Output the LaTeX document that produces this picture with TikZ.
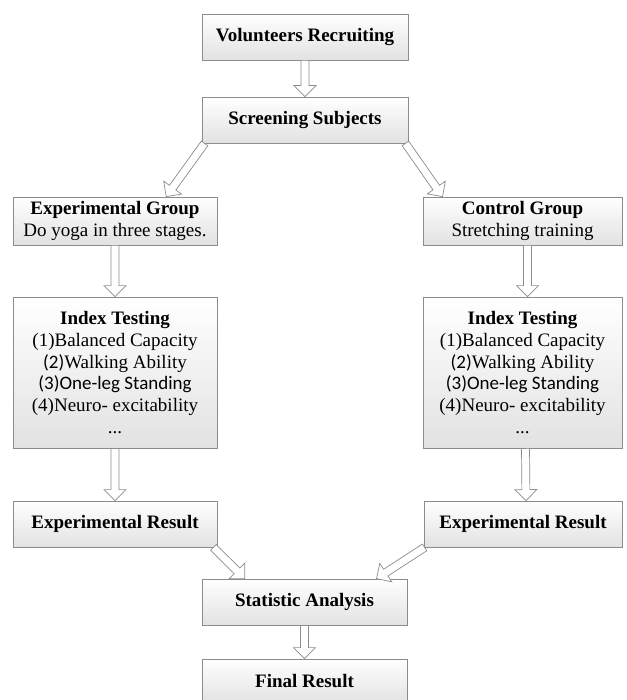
\documentclass[tikz,border=0pt]{standalone}
\usepackage{fontspec}
\setmainfont{Liberation Serif}
\newfontfamily\carlitofont{Carlito}
\usetikzlibrary{calc,shadows}
\definecolor{boxline}{HTML}{8C8C8C}
\definecolor{boxbot}{HTML}{E2E2E2}
\tikzset{
  box/.style={draw=boxline, line width=0.8pt, top color=white, bottom color=boxbot,
    inner sep=0pt, align=center, font=\fontsize{19}{21.7}\selectfont,
    drop shadow={shadow xshift=1.3pt, shadow yshift=-1.3pt, opacity=0.25}},
  barrow/.style={draw=boxline, fill=white, line width=0.7pt, line join=miter},
}
\newcommand{\blockarrow}[2]{%
  \coordinate (baS) at #1;
  \coordinate (baE) at #2;
  \coordinate (baH) at ($(baE)!11pt!(baS)$);
  \draw[barrow] ($(baS)!4pt!90:(baE)$) -- ($(baH)!4pt!90:(baE)$) -- ($(baH)!11pt!90:(baE)$)
    -- (baE) -- ($(baH)!11pt!-90:(baE)$) -- ($(baH)!4pt!-90:(baE)$) -- ($(baS)!4pt!-90:(baE)$) -- cycle;
}
\begin{document}
\begin{tikzpicture}[x=1pt,y=-1pt]
\useasboundingbox (0,0) rectangle (626,700);
\fill[white] (0,0) rectangle (626,700);

\node[box, minimum width=206pt, minimum height=46pt] (vol) at (305,37) {\textbf{Volunteers Recruiting}};
\node[box, minimum width=206pt, minimum height=46pt] (scr) at (305,120) {\textbf{Screening Subjects}};
\node[box, minimum width=204pt, minimum height=48pt] (expg) at (115,221) {\textbf{Experimental Group}\\Do yoga in three stages.};
\node[box, minimum width=199pt, minimum height=48pt] (ctrl) at (522.5,221) {\textbf{Control Group}\\Stretching training};
\node[box, minimum width=204pt, minimum height=151pt] (idxL) at (115,372.5) {\textbf{Index Testing}\\(1)Balanced Capacity\\{\carlitofont(2)}Walking Ability\\{\carlitofont(3)One-leg Standing}\\(4)Neuro- excitability\\...};
\node[box, minimum width=199pt, minimum height=151pt] (idxR) at (522.5,372.5) {\textbf{Index Testing}\\(1)Balanced Capacity\\{\carlitofont(2)}Walking Ability\\{\carlitofont(3)One-leg Standing}\\(4)Neuro- excitability\\...};
\node[box, minimum width=204pt, minimum height=46pt] (resL) at (115,524) {\textbf{Experimental Result}};
\node[box, minimum width=198pt, minimum height=46pt] (resR) at (523,524) {\textbf{Experimental Result}};
\node[box, minimum width=205pt, minimum height=46pt] (stat) at (304.5,602) {\textbf{Statistic Analysis}};
\node[box, minimum width=205pt, minimum height=44pt] (fin) at (304.5,681) {\textbf{Final Result}};

\blockarrow{(vol.south)}{(scr.north)}
\blockarrow{($(scr.south west)+(3pt,0pt)$)}{($(expg.north east)!0.25!(expg.north west)$)}
\blockarrow{($(scr.south east)+(-3pt,0pt)$)}{($(ctrl.north west)!0.1!(ctrl.north east)$)}
\blockarrow{(expg.south)}{(idxL.north)}
\blockarrow{($(ctrl.south)+(5pt,0pt)$)}{($(idxR.north)+(5pt,0pt)$)}
\blockarrow{(idxL.south)}{(resL.north)}
\blockarrow{($(idxR.south)+(3pt,0pt)$)}{($(resR.north)+(3pt,0pt)$)}
\blockarrow{($(resL.south east)+(-4pt,0pt)$)}{($(stat.north west)!0.21!(stat.north east)$)}
\blockarrow{($(resR.south west)+(1pt,0pt)$)}{($(stat.north west)!0.85!(stat.north east)$)}
\blockarrow{(stat.south)}{(fin.north)}
\end{tikzpicture}
\end{document}
